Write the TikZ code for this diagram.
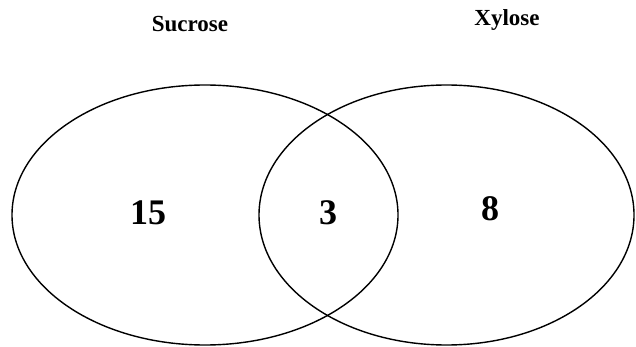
\documentclass[tikz,border=0pt]{standalone}
\usepackage{fontspec}
\setmainfont{Liberation Serif}
\usetikzlibrary{shapes.geometric}

\begin{document}
\begin{tikzpicture}[
  x=1pt, y=-1pt,
  set/.style={draw, ellipse, line width=1.4pt, inner sep=0pt,
              minimum height=260pt},
  title/.style={font=\fontsize{23}{26}\selectfont\bfseries},
  count/.style={font=\fontsize{36}{40}\selectfont\bfseries},
]
\useasboundingbox (0,0) rectangle (636,347);
% ---- sets -------------------------------------------------------------
\node[set, minimum width=386pt] (sucrose) at (205,215) {};
\node[set, minimum width=375pt] (xylose)  at (446.5,215) {};
% ---- set names --------------------------------------------------------
\node[title] (sucroseName) at (190,24) {Sucrose};
\node[title] (xyloseName)  at (507,20) {Xylose};
% ---- counts -----------------------------------------------------------
\node[count] (onlySuc) at (148,213) {15};
\node[count] (both)    at (328,213) {3};
\node[count] (onlyXyl) at (490,209) {8};
\end{tikzpicture}
\end{document}
